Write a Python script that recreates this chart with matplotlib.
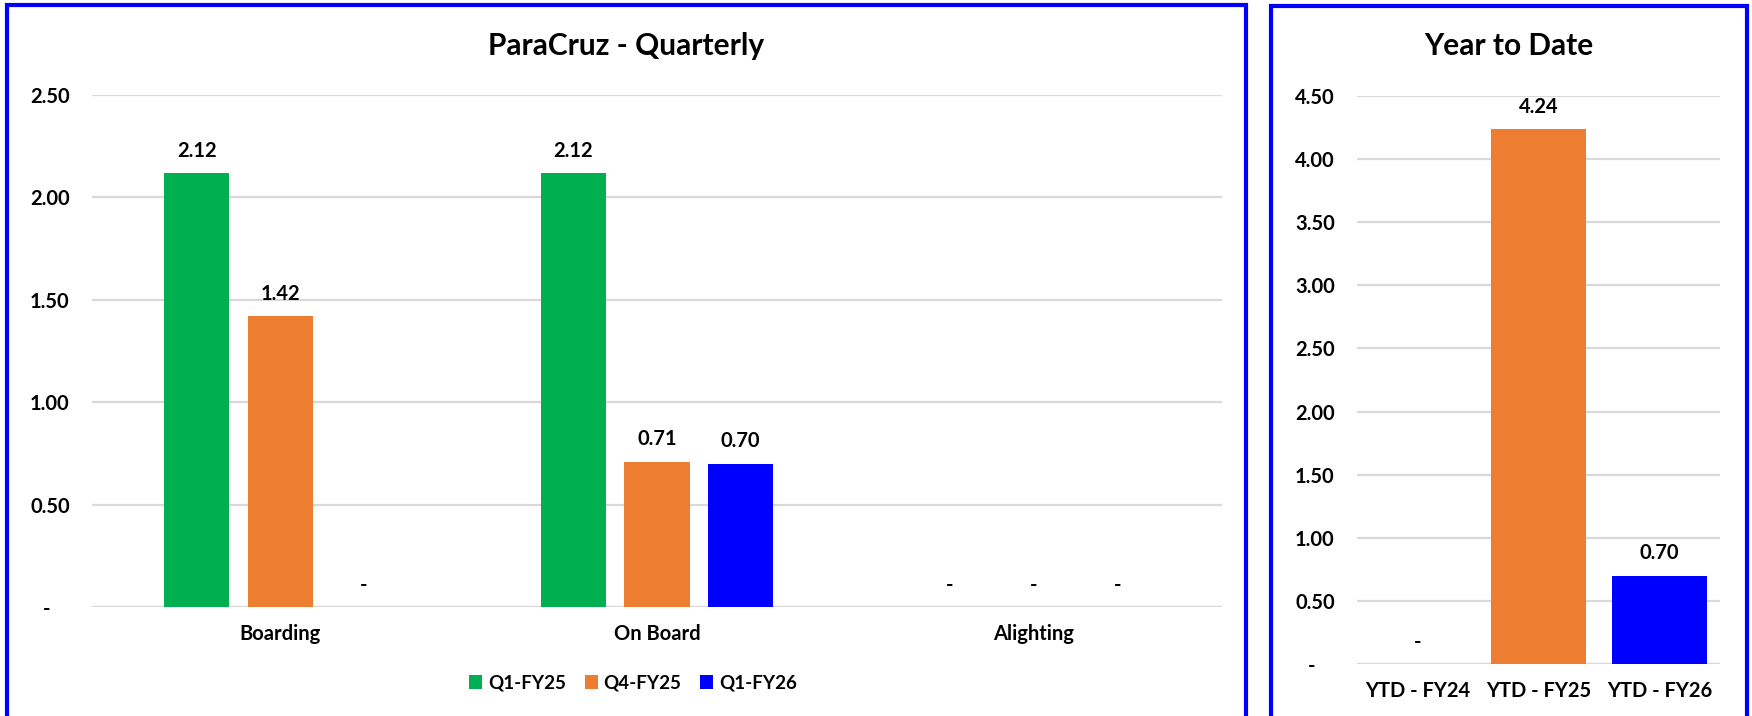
import matplotlib
matplotlib.use("Agg")
import matplotlib.pyplot as plt
from matplotlib.patches import Rectangle
import numpy as np

plt.rcParams['font.family'] = ['Lato', 'DejaVu Sans']
plt.rcParams['font.weight'] = 'bold'

# quarterly data
categories = ["Boarding", "On Board", "Alighting"]
series_names = ["Q1-FY25", "Q4-FY25", "Q1-FY26"]
q1_fy25 = [2.12, 2.12, 0.0]
q4_fy25 = [1.42, 0.71, 0.0]
q1_fy26 = [0.0, 0.70, 0.0]

# year to date data
ytd_labels = ["YTD - FY24", "YTD - FY25", "YTD - FY26"]
ytd_values = [0.0, 4.24, 0.70]

colors = ["#00B050", "#ED7D31", "#0000FF"]
grid_col = "#D9D9D9"
FS = 14.5

W, H = 1752, 716
fig = plt.figure(figsize=(W / 100, H / 100), dpi=100)


def px_axes(x0, y_top, x1, y_bot):
    return fig.add_axes([x0 / W, 1 - y_bot / H, (x1 - x0) / W, (y_bot - y_top) / H])


def fmt(v):
    return "-" if v == 0 else f"{v:.2f}"


def style_axes(ax, ymax):
    ticks = np.arange(0, ymax + 0.01, 0.5)
    ax.set_ylim(0, ymax)
    ax.set_yticks(ticks)
    ax.set_yticklabels([("-    " if t == 0 else f"{t:.2f}") for t in ticks])
    ax.set_xlim(-0.5, 2.5)
    for s in ax.spines.values():
        s.set_visible(False)
    ax.grid(axis="y", color=grid_col, lw=1.6)
    ax.set_axisbelow(True)
    ax.tick_params(axis="both", length=0, labelsize=FS, colors="black")
    ax.tick_params(axis="y", pad=16)
    ax.tick_params(axis="x", pad=12)
    ax.axhline(0, color=grid_col, lw=1.6, zorder=0.5)


# panel borders
for x0, x1, y0 in [(7, 1246, 5), (1271, 1747, 6)]:
    fig.patches.append(Rectangle((x0 / W, -0.05), (x1 - x0) / W, 1 - y0 / H + 0.05,
                                 transform=fig.transFigure, fill=False,
                                 edgecolor="#0000FF", lw=3, clip_on=False))

# left chart
ax1 = px_axes(92, 95, 1222, 607)
style_axes(ax1, 2.5)
x = np.arange(len(categories))
off = 0.222
width = 0.174
for i, (vals, name) in enumerate(zip([q1_fy25, q4_fy25, q1_fy26], series_names)):
    pos = x + (i - 1) * off
    ax1.bar(pos, vals, width=width, color=colors[i], label=name, zorder=2)
    for p, v in zip(pos, vals):
        ax1.annotate(fmt(v), (p, v), xytext=(0, 16), textcoords="offset points",
                     ha="center", va="center", fontsize=FS, fontweight="bold")
ax1.set_xticks(x)
ax1.set_xticklabels(categories)

fig.text(626 / W, 1 - 46 / H, "ParaCruz - Quarterly", ha="center", va="center",
         fontsize=21.5, fontweight="bold")

leg = fig.legend(*ax1.get_legend_handles_labels(), loc="center",
                 bbox_to_anchor=(633 / W, 1 - 683 / H), ncol=3, frameon=False,
                 fontsize=13.5, handlelength=0.7, handleheight=0.7,
                 handletextpad=0.3, columnspacing=1.0)

# right chart
ax2 = px_axes(1357, 96, 1720, 664)
style_axes(ax2, 4.5)
xr = np.arange(len(ytd_labels))
ax2.bar(xr, ytd_values, width=0.78, color=colors, zorder=2)
for p, v in zip(xr, ytd_values):
    ax2.annotate(fmt(v), (p, v), xytext=(0, 16), textcoords="offset points",
                 ha="center", va="center", fontsize=FS, fontweight="bold")
ax2.set_xticks(xr)
ax2.set_xticklabels(ytd_labels)

fig.text(1509 / W, 1 - 46 / H, "Year to Date", ha="center", va="center",
         fontsize=21.5, fontweight="bold")

fig.savefig("out.png", dpi=100)
